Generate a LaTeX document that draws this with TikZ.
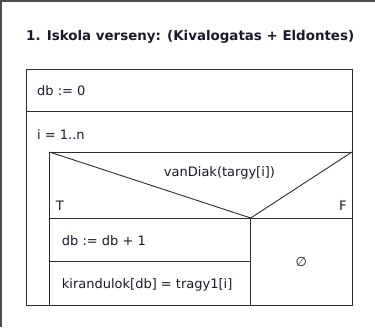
\documentclass[tikz,border=0pt]{standalone}
\usepackage{fontspec}
\setmainfont{DejaVu Sans}
\usetikzlibrary{positioning, calc}
\definecolor{ink}{RGB}{25,25,45}
\definecolor{rule}{RGB}{45,45,45}
\tikzset{stext/.style={text=ink, font=\fontsize{13}{16}\selectfont, inner sep=0pt},
         ttext/.style={text=ink, font=\bfseries\fontsize{13.4}{16}\selectfont, inner sep=0pt},
         cell/.style={draw=rule, line width=0.9pt},
         frame/.style={draw=rule!85, line width=1.8pt}}

\begin{document}
\begin{tikzpicture}[x=1pt, y=-1pt]
  \useasboundingbox (0,0) rectangle (375,327);
  % window frame, only top and left edges show
  \draw[frame] (0.9,327) -- (0.9,0.9) -- (375,0.9);
  \node[ttext, anchor=base west] (title) at (26,40) {1. Iskola verseny: (Kivalogatas + Eldontes)};

  % corners of the structogram
  \coordinate (nw) at (26,69);
  \coordinate (se) at (352,305);
  \coordinate (loopnw) at (49.5,152);
  \coordinate (cnd) at (250.7,218);

  \draw[cell] (nw) rectangle (se);
  \draw[cell] (nw |- 0,111) -- (se |- 0,111);
  \draw[cell] (loopnw) rectangle (se);
  % condition
  \draw[cell] (loopnw |- cnd) -- (se |- cnd);
  \draw[cell] (loopnw) -- (cnd) -- (se |- loopnw);
  \draw[cell] (cnd) -- (cnd |- se);
  \draw[cell] (loopnw |- 0,261.7) -- (cnd |- 0,261.7);

  \node[stext, anchor=base west] (init) at (37,95.7) {db := 0};
  \node[stext, anchor=base west] (loop) at (37,139) {i = 1..n};
  \node[stext, anchor=base] (cond) at (219.5,176.7) {vanDiak(targy[i])};
  \node[stext, anchor=base west] (yes) at (55.7,210.7) {T};
  \node[stext, anchor=base east] (no) at (346.7,210.7) {F};
  \node[stext, anchor=base west] (inc) at (61.7,245.7) {db := db + 1};
  \node[stext, anchor=base west] (store) at (61.7,288) {kirandulok[db] = tragy1[i]};
  \node[stext] (skip) at ($(cnd)!0.5!(se)$) {∅};
\end{tikzpicture}
\end{document}
